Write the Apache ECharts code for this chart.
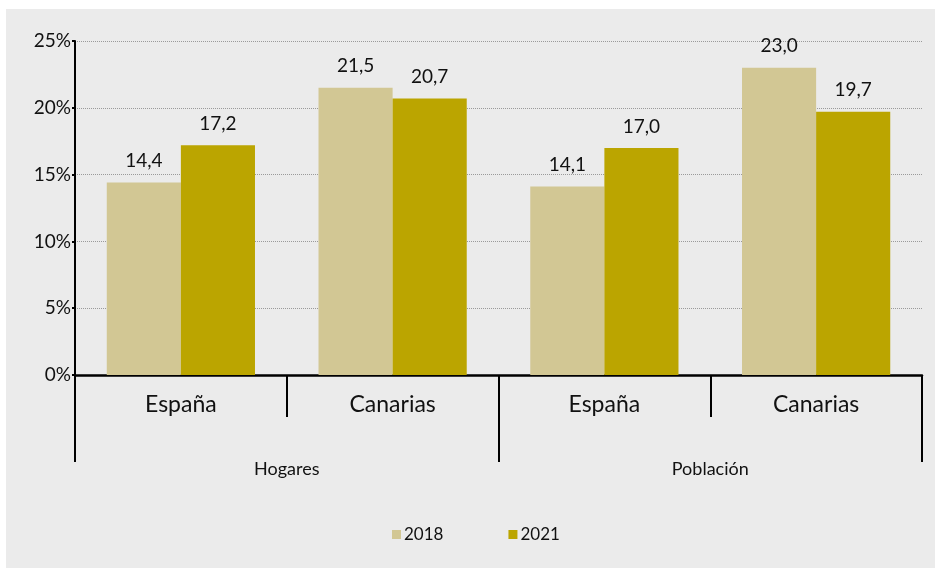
<!DOCTYPE html>
<html>
<head>
<meta charset="utf-8">
<script src="https://cdn.jsdelivr.net/npm/echarts@6/dist/echarts.min.js"></script>
<style>
html,body{margin:0;padding:0;background:#fff;}
#chart{position:absolute;left:6px;top:9px;width:929px;height:559px;background:#ebebeb;}
</style>
</head>
<body>
<div id="chart"></div>
<script>
const categories = ['España', 'Canarias', 'España', 'Canarias'];
const groups = ['Hogares', 'Población'];
const seriesNames = ['2018', '2021'];
const values2018 = [14.4, 21.5, 14.1, 23.0];
const values2021 = [17.2, 20.7, 17.0, 19.7];
const yTicks = [0, 5, 10, 15, 20, 25];

const FONT = 'Lato';
const chart = echarts.init(document.getElementById('chart'), null, {renderer: 'canvas'});
const labelFmt = p => p.value.toFixed(1).replace('.', ',');
chart.setOption({
  backgroundColor: '#ebebeb',
  textStyle: {fontFamily: FONT, color: '#111'},
  animation: false,
  grid: {left: 69, top: 32, width: 847, height: 334, containLabel: false},
  legend: {
    data: seriesNames,
    left: 381, top: 512,
    itemWidth: 9, itemHeight: 9, itemGap: 65,
    icon: 'rect',
    textStyle: {fontFamily: FONT, fontSize: 17, color: '#111', padding: [0,0,0,-2]}
  },
  xAxis: [
    {
      type: 'category', data: categories, position: 'bottom',
      axisLine: {show: true, lineStyle: {color: '#000', width: 2.5}},
      axisTick: {show: true, length: 42, lineStyle: {color: '#000', width: 2}},
      axisLabel: {fontFamily: FONT, fontSize: 23, color: '#111', margin: 18}
    },
    {
      type: 'category', data: groups, position: 'bottom', gridIndex: 0,
      axisLine: {show: false},
      axisTick: {show: true, length: 87, lineStyle: {color: '#000', width: 2}},
      axisLabel: {fontFamily: FONT, fontSize: 18, color: '#111', margin: 85}
    }
  ],
  yAxis: {
    type: 'value', min: yTicks[0], max: yTicks[yTicks.length-1], interval: 5,
    axisLine: {show: true, lineStyle: {color: '#000', width: 2}},
    axisTick: {show: true, length: 3, lineStyle: {color: '#000', width: 2}},
    axisLabel: {fontFamily: FONT, fontSize: 19, color: '#111', margin: 4, formatter: '{value}%'},
    splitLine: {show: true, lineStyle: {color: '#9a9a9a', type: 'dotted', width: 1}}
  },
  series: [
    {
      name: seriesNames[0], type: 'bar', data: values2018,
      itemStyle: {color: '#d2c794'},
      barGap: '0%', barCategoryGap: '30%',
      label: {show: true, position: 'top', distance: 12, fontFamily: FONT, fontSize: 19, color: '#111', formatter: labelFmt}
    },
    {
      name: seriesNames[1], type: 'bar', data: values2021,
      itemStyle: {color: '#bba500'},
      barGap: '0%', barCategoryGap: '30%',
      label: {show: true, position: 'top', distance: 12, fontFamily: FONT, fontSize: 19, color: '#111', formatter: labelFmt}
    }
  ]
});
</script>
</body>
</html>
